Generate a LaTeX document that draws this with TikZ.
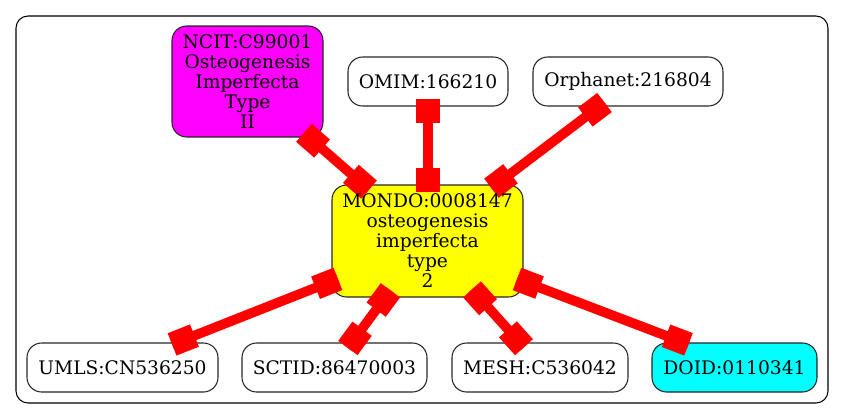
\documentclass[tikz,border=0pt]{standalone}
\usepackage{fontspec}
\setmainfont{DejaVu Serif}
\definecolor{gvmagenta}{RGB}{255,0,255}
\definecolor{gvyellow}{RGB}{255,255,0}
\definecolor{gvcyan}{RGB}{0,255,255}
\definecolor{gvred}{RGB}{255,0,0}
\begin{document}
\begin{tikzpicture}[x=0.75pt,y=-0.75pt,
  nd/.style={draw=black!85, rounded corners=11pt, line width=0.8pt,
    font=\fontsize{14}{15}\selectfont, align=center, inner sep=0pt, outer sep=0pt},
  smallnd/.style={nd, minimum height=36.75pt},
  edge/.style={draw=gvred, line width=7.3pt},
  sq/.style={fill=gvred, minimum size=18pt, inner sep=0pt, outer sep=0pt, sloped, allow upside down}]
\useasboundingbox (0,0) rectangle (844,419);
\draw[line width=0.8pt, rounded corners=9pt] (16,16) rectangle (828,403);

\node[nd, fill=gvmagenta, minimum width=113.25pt, minimum height=83.25pt] (ncit) at (247.5,81.5)
  {NCIT:C99001\\Osteogenesis\\Imperfecta\\Type\\II};
\node[smallnd, minimum width=120pt] (omim) at (428,81.5) {OMIM:166210};
\node[smallnd, minimum width=142.5pt] (orpha) at (628,81.5) {Orphanet:216804};
\node[nd, fill=gvyellow, minimum width=143.25pt, minimum height=84pt] (mondobox) at (427.5,241) {};
\node[smallnd, minimum width=143.25pt] (umls) at (122.5,367.5) {UMLS:CN536250};
\node[smallnd, minimum width=138.75pt] (sctid) at (334.5,367.5) {SCTID:86470003};
\node[smallnd, minimum width=132pt] (mesh) at (540,367.5) {MESH:C536042};
\node[smallnd, fill=gvcyan, minimum width=123.75pt] (doid) at (734.5,367.5) {DOID:0110341};

\coordinate (ncitE) at (304,132.8);   \coordinate (mncitE) at (369,189.6);
\coordinate (omimE) at (428,99);      \coordinate (momimE) at (428,192);
\coordinate (orphaE) at (604.5,102.5); \coordinate (morphaE) at (491.4,188.2);
\coordinate (mumlsE) at (337.9,278.9); \coordinate (umlsE) at (172.1,344.4);
\coordinate (msctidE) at (390.4,290.3); \coordinate (sctidE) at (347.9,348);
\coordinate (mmeshE) at (472,289.4);  \coordinate (meshE) at (524,347.2);
\coordinate (mdoidE) at (517.1,279);  \coordinate (doidE) at (688.5,344.3);

\foreach \a/\b in {ncitE/mncitE, omimE/momimE, orphaE/morphaE, mumlsE/umlsE,
                   msctidE/sctidE, mmeshE/meshE, mdoidE/doidE} {
  \draw[edge] (\a) -- (\b)
    node[sq, pos=0, anchor=west] {}
    node[sq, pos=1, anchor=east] {};
}

\node[font=\fontsize{14}{15}\selectfont, align=center, inner sep=0pt] (mondo) at (mondobox.center)
  {MONDO:0008147\\osteogenesis\\imperfecta\\type\\2};
\end{tikzpicture}
\end{document}
